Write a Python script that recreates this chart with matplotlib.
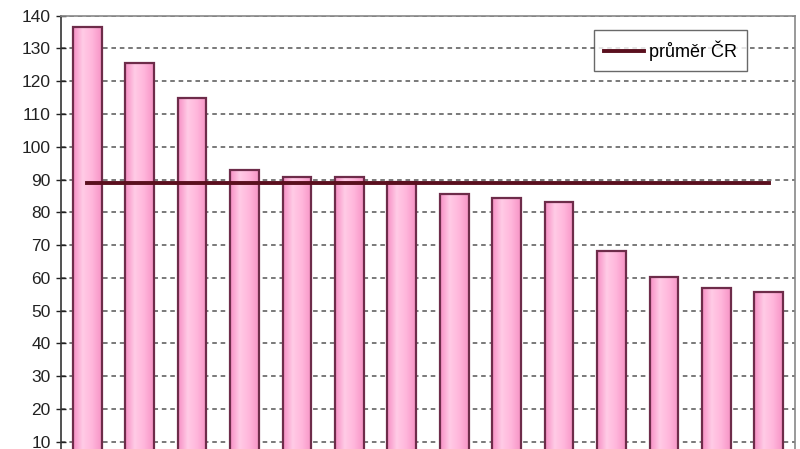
import numpy as np
import matplotlib.pyplot as plt
from matplotlib.colors import LinearSegmentedColormap

plt.rcParams['font.family'] = ['Liberation Sans', 'DejaVu Sans']

# 14 krajů (popisky osy x jsou v předloze oříznuté)
categories = ['K%d' % i for i in range(1, 15)]
values = [136.5, 125.5, 115.0, 92.9, 90.9, 90.9, 89.3, 85.5, 84.3, 83.1, 68.3, 60.4, 56.8, 55.8]
prumer_cr = 88.9
yticks = list(range(10, 150, 10))

fig = plt.figure(figsize=(8, 4.49), dpi=100)
ax = fig.add_axes([0.07625, -0.0568, 0.9175, 1.0218])

x = np.arange(len(categories))
bars = ax.bar(x, values, width=0.545, color='none', edgecolor='#6e2c4a',
              linewidth=1.6, zorder=3)

# růžový gradient ve sloupcích
cmap = LinearSegmentedColormap.from_list('pink', ['#f78fc4', '#ffcbe6', '#ffb6db', '#f794c6'])
grad = np.linspace(0, 1, 64).reshape(1, -1)
for b in bars:
    bx, by = b.get_x(), b.get_y()
    im = ax.imshow(grad, cmap=cmap, aspect='auto', zorder=2,
                   extent=[bx, bx + b.get_width(), by, by + b.get_height()])
    im.set_clip_path(b)

# průměr ČR
ax.plot([x[0], x[-1]], [prumer_cr, prumer_cr], color='#5a0f1e', linewidth=2.8,
        zorder=4, label='průměr ČR')

ax.set_xlim(-0.5, len(categories) - 0.5)
ax.set_ylim(0, 140)
ax.set_yticks(yticks)
ax.set_xticks(x)
ax.set_xticklabels([])
ax.tick_params(axis='y', direction='inout', length=7, width=1, labelsize=12.5,
               colors='#222222', pad=4)
ax.tick_params(axis='x', length=0)
ax.yaxis.grid(True, linestyle=(0, (3, 2.5)), color='#555555', linewidth=1.1, zorder=1)
ax.set_axisbelow(True)

ax.spines['left'].set_color('#333333')
ax.spines['left'].set_linewidth(1.2)
for s in ['top', 'right']:
    ax.spines[s].set_color('#888888')
    ax.spines[s].set_linewidth(1.2)

leg = ax.legend(loc='upper right', bbox_to_anchor=(0.935, 0.968), fontsize=13,
                frameon=True, fancybox=False, handlelength=2.2, borderpad=0.55,
                handletextpad=0.3, borderaxespad=0)
leg.get_frame().set_edgecolor('#444444')
leg.get_frame().set_linewidth(1.0)

fig.savefig('out.png', dpi=100)
